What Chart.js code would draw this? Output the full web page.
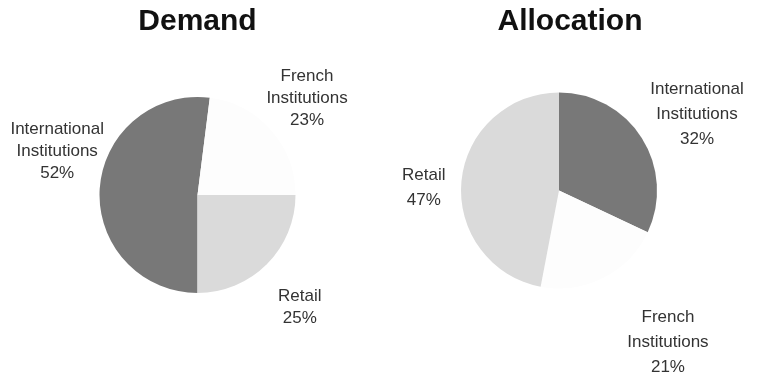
<!DOCTYPE html>
<html>
<head>
<meta charset="utf-8">
<script src="https://cdn.jsdelivr.net/npm/chart.js@4.4.1/dist/chart.umd.min.js"></script>
<style>
    html, body { margin: 0; padding: 0; background: #fff; }
    #wrap { position: relative; width: 759px; height: 381px; }
    .box { position: absolute; top: 0; height: 381px; }
    #box-demand { left: 0; width: 380px; }
    #box-alloc { left: 380px; width: 379px; }
</style>
</head>
<body>
<div id="wrap">
    <div class="box" id="box-demand"><canvas id="demandChart"></canvas></div>
    <div class="box" id="box-alloc"><canvas id="allocChart"></canvas></div>
</div>
<script>
// Datos (%)
const categories = ['International Institutions', 'French Institutions', 'Retail'];
const demandShare = [52, 23, 25];
const allocationShare = [32, 21, 47];
const sliceColors = ['#787878', '#fdfdfd', '#dadada'];

const FONT = '"Liberation Sans", Arial, Helvetica, sans-serif';

// titulo dibujado sobre el centro del pie (con pequeño desplazamiento)
const sideTitle = {
    id: 'sideTitle',
    afterDraw(chart, args, opts) {
        const ctx = chart.ctx;
        const ca = chart.chartArea;
        ctx.save();
        ctx.font = 'bold 30px ' + FONT;
        ctx.fillStyle = '#111';
        ctx.textAlign = 'center';
        ctx.textBaseline = 'middle';
        ctx.fillText(opts.text, (ca.left + ca.right) / 2 + opts.dx, 22);
        ctx.restore();
    }
};

// etiquetas exteriores: nombre partido en lineas + porcentaje
const pieLabels = {
    id: 'pieLabels',
    afterDatasetsDraw(chart, args, opts) {
        const ctx = chart.ctx;
        const arcs = chart.getDatasetMeta(0).data;
        const values = chart.data.datasets[0].data;
        ctx.save();
        ctx.font = '17px ' + FONT;
        ctx.fillStyle = '#333';
        ctx.textAlign = 'center';
        ctx.textBaseline = 'middle';
        arcs.forEach((arc, i) => {
            const p = arc.getProps(['x', 'y', 'startAngle', 'endAngle', 'outerRadius'], true);
            const ang = (p.startAngle + p.endAngle) / 2 + opts.shift[i] * Math.PI / 180;
            const d = p.outerRadius * opts.dist[i];
            const cx = p.x + Math.cos(ang) * d;
            const cy = p.y + Math.sin(ang) * d;
            const lines = chart.data.labels[i].split(' ').concat(values[i] + '%');
            const top = cy - (lines.length - 1) * opts.lineHeight / 2;
            lines.forEach((t, j) => ctx.fillText(t, cx, top + j * opts.lineHeight));
        });
        ctx.restore();
    }
};

function makePie(canvasId, values, cfg) {
    return new Chart(document.getElementById(canvasId), {
        type: 'pie',
        data: {
            labels: categories,
            datasets: [{
                data: values,
                backgroundColor: sliceColors,
                borderWidth: 0,
                radius: 98
            }]
        },
        options: {
            responsive: true,
            maintainAspectRatio: false,
            animation: false,
            events: [],
            rotation: cfg.rotation,
            layout: { padding: cfg.padding },
            plugins: {
                legend: { display: false },
                tooltip: { enabled: false },
                sideTitle: { text: cfg.title, dx: cfg.titleDx },
                pieLabels: { shift: cfg.shift, dist: cfg.dist, lineHeight: cfg.lineHeight }
            }
        },
        plugins: [sideTitle, pieLabels]
    });
}

makePie('demandChart', demandShare, {
    title: 'Demand',
    titleDx: 0,
    rotation: 180,
    padding: { left: 15, right: 0, top: 40, bottom: 31 },
    shift: [13.8, 0, 2.7],
    dist: [1.50, 1.49, 1.55],
    lineHeight: 22
});

makePie('allocChart', allocationShare, {
    title: 'Allocation',
    titleDx: 11,
    rotation: 0,
    padding: { left: 0, right: 21, top: 40, bottom: 40 },
    shift: [3.4, -8.6, -4.1],
    dist: [1.61, 1.91, 1.38],
    lineHeight: 25
});
</script>
</body>
</html>
